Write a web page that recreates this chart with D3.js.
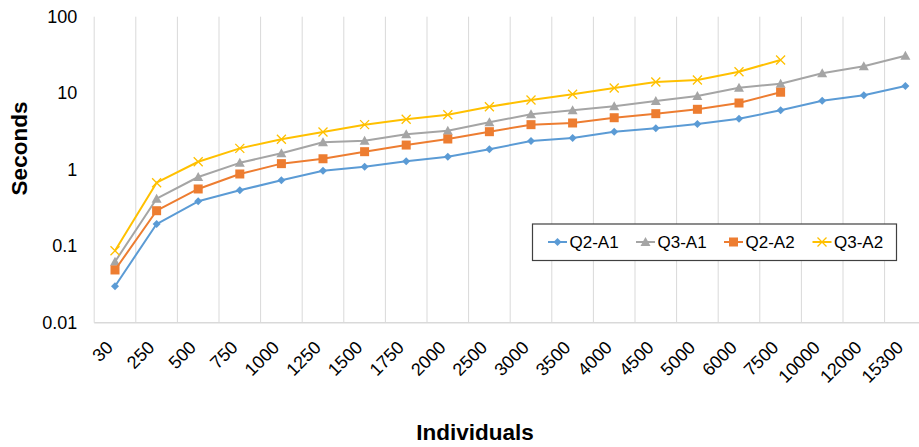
<!DOCTYPE html>
<html>
<head>
<meta charset="utf-8">
<script src="https://cdn.jsdelivr.net/npm/d3@7"></script>
<style>
  html, body { margin: 0; padding: 0; background: #fff; }
  svg { display: block; font-family: "Liberation Sans", Arial, sans-serif; }
</style>
</head>
<body>
<svg id="chart" width="919" height="447"></svg>
<script>
// Number of individuals (categorical x axis)
const categories = ["30","250","500","750","1000","1250","1500","1750","2000","2500",
                    "3000","3500","4000","4500","5000","6000","7500","10000","12000","15300"];

// Run time in seconds for each query/approach
const q2a1 = [0.030, 0.195, 0.386, 0.538, 0.727, 0.97, 1.09, 1.29, 1.48, 1.85,
              2.37, 2.60, 3.14, 3.48, 3.96, 4.64, 5.98, 7.98, 9.39, 12.4];
const q3a1 = [0.0627, 0.418, 0.803, 1.23, 1.64, 2.28, 2.39, 2.90, 3.23, 4.17,
              5.30, 5.98, 6.74, 7.91, 9.19, 11.8, 13.3, 18.2, 22.5, 30.9];
const q2a2 = [0.0489, 0.291, 0.560, 0.879, 1.20, 1.39, 1.72, 2.10, 2.52, 3.14,
              3.88, 4.08, 4.78, 5.40, 6.16, 7.45, 10.3];
const q3a2 = [0.0873, 0.676, 1.27, 1.90, 2.50, 3.11, 3.88, 4.56, 5.24, 6.66,
              8.15, 9.68, 11.7, 14.0, 14.9, 19.1, 27.2];

const yTicks = [0.01, 0.1, 1, 10, 100];
const yTickLabels = ["0.01", "0.1", "1", "10", "100"];

const series = [
  { name: "Q2-A1", values: q2a1, color: "#5B9BD5", marker: "diamond" },
  { name: "Q3-A1", values: q3a1, color: "#A5A5A5", marker: "triangle" },
  { name: "Q2-A2", values: q2a2, color: "#ED7D31", marker: "square" },
  { name: "Q3-A2", values: q3a2, color: "#FFC000", marker: "cross" }
];

const svg = d3.select("#chart");
const plot = { left: 94.2, right: 926.2, top: 16.7, bottom: 322.7 };

const x = d3.scaleBand().domain(categories).range([plot.left, plot.right]);
const cx = c => x(c) + x.bandwidth() / 2;
const y = d3.scaleLog().domain([0.01, 100]).range([plot.bottom, plot.top]);

// Vertical gridlines at category boundaries
const bounds = categories.map(c => x(c)).concat([plot.right]);
svg.append("g").selectAll("line").data(bounds).join("line")
  .attr("x1", d => d).attr("x2", d => d)
  .attr("y1", plot.top).attr("y2", plot.bottom)
  .attr("stroke", "#d9d9d9").attr("stroke-width", 1);

// Horizontal axis line
svg.append("line")
  .attr("x1", plot.left).attr("x2", plot.right)
  .attr("y1", plot.bottom).attr("y2", plot.bottom)
  .attr("stroke", "#d9d9d9").attr("stroke-width", 1.5);

// Y axis tick labels
const yAxis = d3.axisLeft(y).tickValues(yTicks)
  .tickFormat((d, i) => yTickLabels[i]).tickSize(0).tickPadding(17);
const gy = svg.append("g").attr("transform", `translate(${plot.left},0)`).call(yAxis);
gy.select(".domain").remove();
gy.selectAll("text").attr("font-size", 18).attr("fill", "#000")
  .attr("font-family", "Liberation Sans, Arial, sans-serif");

// X axis tick labels, rotated
const xAxis = d3.axisBottom(x).tickSize(0).tickPadding(0);
const gx = svg.append("g").attr("transform", `translate(0,${plot.bottom})`).call(xAxis);
gx.select(".domain").remove();
gx.selectAll("text")
  .attr("font-size", 18).attr("fill", "#000")
  .attr("font-family", "Liberation Sans, Arial, sans-serif")
  .attr("text-anchor", "end")
  .attr("y", 0).attr("dy", 0)
  .attr("transform", "translate(-1,26) rotate(-45)");

// Axis titles
svg.append("text")
  .attr("x", 475).attr("y", 440)
  .attr("text-anchor", "middle")
  .attr("font-size", 22.5).attr("font-weight", "bold")
  .text("Individuals");
svg.append("text")
  .attr("transform", "translate(27,148.5) rotate(-90)")
  .attr("text-anchor", "middle")
  .attr("font-size", 22.5).attr("font-weight", "bold")
  .text("Seconds");

// Marker shapes
function drawMarker(g, type, color, px, py) {
  if (type === "diamond") {
    g.append("path")
      .attr("d", `M${px},${py - 4}L${px + 4},${py}L${px},${py + 4}L${px - 4},${py}Z`)
      .attr("fill", color);
  } else if (type === "triangle") {
    g.append("path")
      .attr("d", `M${px},${py - 5}L${px + 5},${py + 4}L${px - 5},${py + 4}Z`)
      .attr("fill", color);
  } else if (type === "square") {
    g.append("rect")
      .attr("x", px - 4.5).attr("y", py - 4.5)
      .attr("width", 9).attr("height", 9)
      .attr("fill", color);
  } else if (type === "cross") {
    g.append("path")
      .attr("d", `M${px - 4.5},${py - 4.5}L${px + 4.5},${py + 4.5}M${px + 4.5},${py - 4.5}L${px - 4.5},${py + 4.5}`)
      .attr("stroke", color).attr("stroke-width", 1.3).attr("fill", "none");
  }
}

const line = d3.line()
  .x((d, i) => cx(categories[i]))
  .y(d => y(d));

series.forEach(s => {
  const g = svg.append("g");
  g.append("path")
    .datum(s.values)
    .attr("d", line)
    .attr("fill", "none")
    .attr("stroke", s.color)
    .attr("stroke-width", 2)
    .attr("stroke-linejoin", "round");
  s.values.forEach((v, i) => drawMarker(g, s.marker, s.color, cx(categories[i]), y(v)));
});

// Legend
const legend = svg.append("g");
legend.append("rect")
  .attr("x", 532.5).attr("y", 224).attr("width", 364).attr("height", 36.5)
  .attr("fill", "#fff").attr("stroke", "#404040").attr("stroke-width", 1.2);
const legendX = [548, 636, 724, 812.5];
series.forEach((s, i) => {
  const lx = legendX[i], ly = 242;
  legend.append("line")
    .attr("x1", lx).attr("x2", lx + 19).attr("y1", ly).attr("y2", ly)
    .attr("stroke", s.color).attr("stroke-width", 2);
  drawMarker(legend, s.marker, s.color, lx + 9.5, ly);
  legend.append("text")
    .attr("x", lx + 21.5).attr("y", ly).attr("dy", "0.35em")
    .attr("font-size", 17).attr("fill", "#000")
    .text(s.name);
});
</script>
</body>
</html>
